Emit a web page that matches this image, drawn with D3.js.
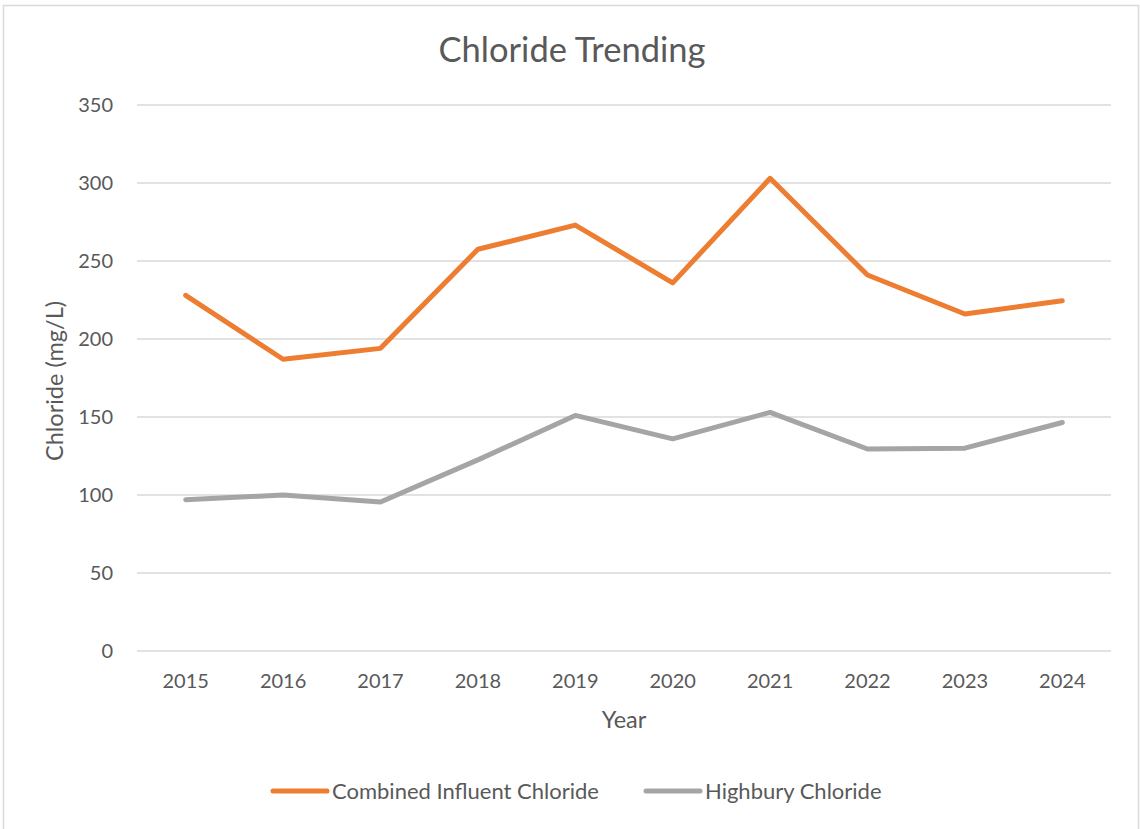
<!DOCTYPE html>
<html lang="en">
<head>
<meta charset="UTF-8">
<title>Chloride Trending</title>
<script src="https://cdn.jsdelivr.net/npm/d3@7"></script>
<style>
  body { margin: 0; background: #fff; }
  text { font-family: Lato, "Open Sans", sans-serif; fill: #595959; }
</style>
</head>
<body>
<div class="chart"></div>
<script>
    const years = ['2015', '2016', '2017', '2018', '2019', '2020', '2021', '2022', '2023', '2024']
    const combined = [228, 187, 194, 257.5, 273, 236, 303, 241, 216, 224.5]
    const highbury = [97, 100, 95.5, 122.5, 151, 136, 153, 129.5, 130, 146.5]
    const yTicks = [0, 50, 100, 150, 200, 250, 300, 350]
    const seriesNames = ['Combined Influent Chloride', 'Highbury Chloride']
    const colors = ['#ED7D31', '#A5A5A5']

    const width = 1140
    const height = 829
    const plot = { left: 137, right: 1111, top: 105, bottom: 651 }

    const svg = d3.select('.chart')
        .append('svg')
        .attr('width', width)
        .attr('height', height)

    svg.append('rect')
        .attr('x', 3.5).attr('y', 5.5)
        .attr('width', 1135).attr('height', 830)
        .attr('fill', '#fff')
        .attr('stroke', '#D9D9D9')
        .attr('stroke-width', 1.5)

    const xScale = d3.scaleBand().domain(years).range([plot.left, plot.right])
    const yScale = d3.scaleLinear().domain([0, 350]).range([plot.bottom, plot.top])

    // gridlines
    svg.append('g')
        .selectAll('line')
        .data(yTicks)
        .enter()
        .append('line')
        .attr('x1', plot.left)
        .attr('x2', plot.right)
        .attr('y1', d => yScale(d))
        .attr('y2', d => yScale(d))
        .attr('stroke', '#D9D9D9')
        .attr('stroke-width', 1.5)

    // y axis labels
    const yAxis = d3.axisLeft(yScale).tickValues(yTicks).tickSize(0).tickPadding(24)
    const gY = svg.append('g')
        .attr('transform', `translate(${plot.left}, 0)`)
        .call(yAxis)
    gY.select('.domain').remove()
    gY.selectAll('text')
        .style('font-family', 'Lato, "Open Sans", sans-serif')
        .style('font-size', '20px')
        .attr('fill', '#595959')

    // x axis labels
    const xAxis = d3.axisBottom(xScale).tickSize(0).tickPadding(23)
    const gX = svg.append('g')
        .attr('transform', `translate(0, ${plot.bottom})`)
        .call(xAxis)
    gX.select('.domain').remove()
    gX.selectAll('text')
        .style('font-family', 'Lato, "Open Sans", sans-serif')
        .style('font-size', '20px')
        .attr('fill', '#595959')

    // lines
    const line = d3.line()
        .x((d, i) => xScale(years[i]) + xScale.bandwidth() / 2)
        .y(d => yScale(d))

    const allSeries = [combined, highbury]
    allSeries.slice().reverse().forEach((s, k) => {
        const idx = allSeries.length - 1 - k
        svg.append('path')
            .datum(s)
            .attr('d', line)
            .attr('fill', 'none')
            .attr('stroke', colors[idx])
            .attr('stroke-width', 5)
            .attr('stroke-linejoin', 'round')
            .attr('stroke-linecap', 'round')
    })

    // title
    svg.append('text')
        .attr('x', 572)
        .attr('y', 62)
        .attr('text-anchor', 'middle')
        .style('font-size', '34.5px')
        .text('Chloride Trending')

    // axis titles
    svg.append('text')
        .attr('x', (plot.left + plot.right) / 2)
        .attr('y', 728)
        .attr('text-anchor', 'middle')
        .style('font-size', '23.5px')
        .text('Year')

    svg.append('text')
        .attr('transform', `translate(63, ${(plot.top + plot.bottom) / 2 + 3}) rotate(-90)`)
        .attr('text-anchor', 'middle')
        .style('font-size', '23.5px')
        .text('Chloride (mg/L)')

    // legend
    const legendX = [273, 646]
    const legend = svg.append('g')
    seriesNames.forEach((name, i) => {
        legend.append('line')
            .attr('x1', legendX[i]).attr('x2', legendX[i] + 54)
            .attr('y1', 791).attr('y2', 791)
            .attr('stroke', colors[i])
            .attr('stroke-width', 5)
            .attr('stroke-linecap', 'round')
        legend.append('text')
            .attr('x', legendX[i] + 59)
            .attr('y', 799)
            .style('font-size', '22px')
            .text(name)
    })
</script>
</body>
</html>
